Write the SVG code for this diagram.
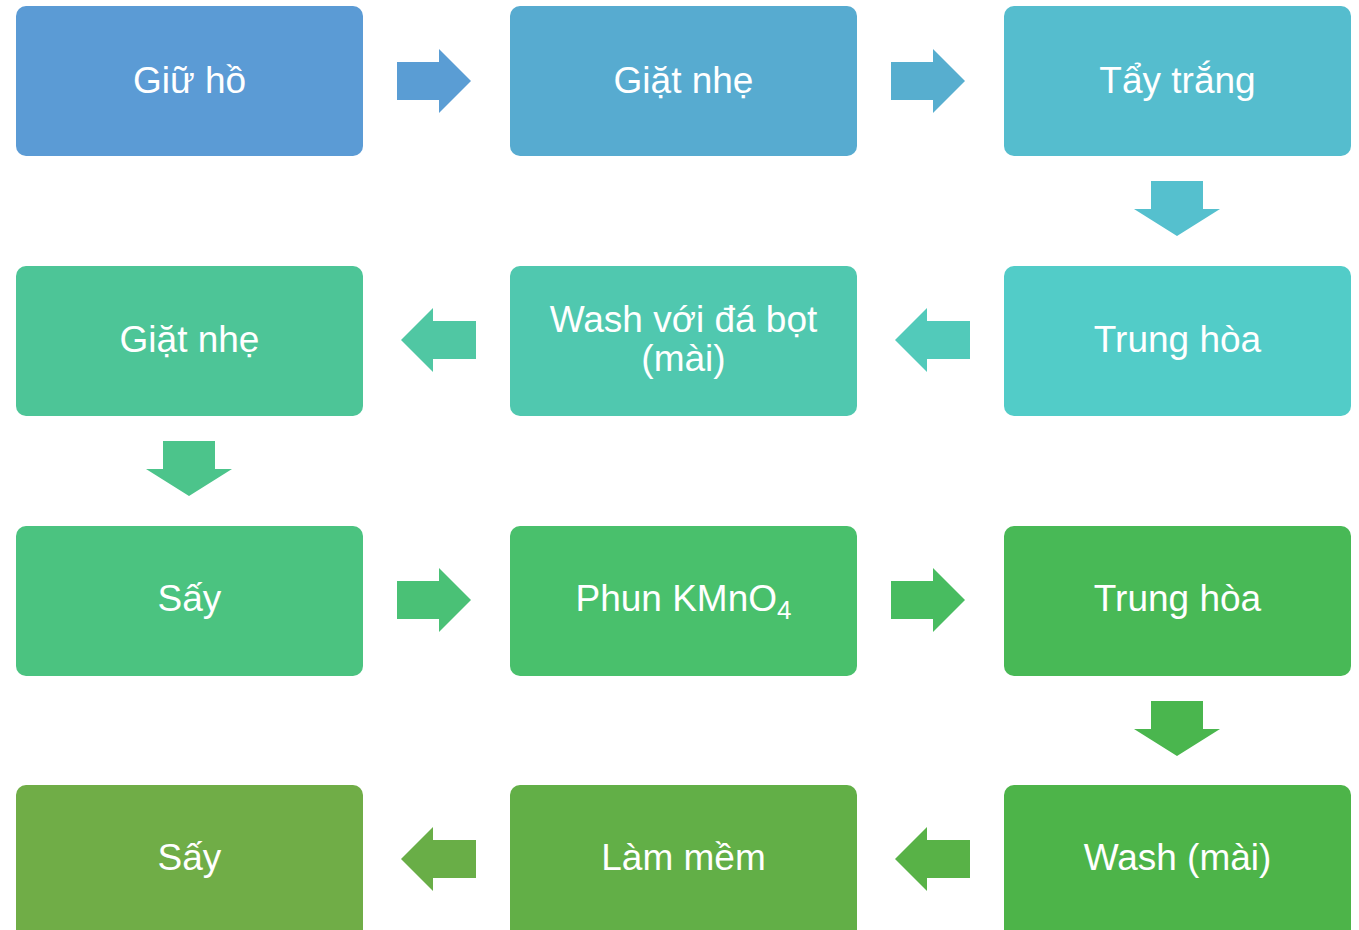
<svg xmlns="http://www.w3.org/2000/svg" xmlns:xlink="http://www.w3.org/1999/xlink" width="1359" height="930" viewBox="0 0 1359 930">
<style>
.box{stroke:none}
.t{font-family:"Liberation Sans",Arial,sans-serif;font-size:37px;fill:#fff;text-anchor:middle}
</style>
<defs>
<path id="ar" d="M0,-19 H42 V-32 L74,0 L42,32 V19 H0 Z"/>
<path id="al" d="M75,-19 H32 V-32 L0,0 L32,32 V19 H75 Z"/>
<path id="ad" d="M-26,0 H26 V28 H43 L0,55 L-43,28 H-26 Z"/>
</defs>
<rect width="1359" height="930" fill="#fff"/>
<g id="connectors">
<use xlink:href="#ar" x="397" y="81" fill="#5A9DD4"/>
<use xlink:href="#ar" x="891" y="81" fill="#57AECF"/>
<use xlink:href="#ad" x="1177" y="181" fill="#55C0CE"/>
<use xlink:href="#al" x="895" y="340" fill="#52CABA"/>
<use xlink:href="#al" x="401" y="340" fill="#50C7A3"/>
<use xlink:href="#ad" x="189" y="441" fill="#4CC48B"/>
<use xlink:href="#ar" x="397" y="600" fill="#4AC176"/>
<use xlink:href="#ar" x="891" y="600" fill="#48BC60"/>
<use xlink:href="#ad" x="1177" y="701" fill="#4AB64E"/>
<use xlink:href="#al" x="895" y="859" fill="#58B247"/>
<use xlink:href="#al" x="401" y="859" fill="#69AE47"/>
</g>
<g id="n1"><rect class="box" x="16" y="6" width="347" height="150" rx="10" fill="#5B9BD5"/><text class="t" x="189.5" y="93">Giữ hồ</text></g>
<g id="n2"><rect class="box" x="510" y="6" width="347" height="150" rx="10" fill="#57ABD0"/><text class="t" x="683.5" y="93">Giặt nhẹ</text></g>
<g id="n3"><rect class="box" x="1004" y="6" width="347" height="150" rx="10" fill="#55BDCE"/><text class="t" x="1177.5" y="93">Tẩy trắng</text></g>
<g id="n4"><rect class="box" x="1004" y="266" width="347" height="150" rx="10" fill="#52CCC8"/><text class="t" x="1177.5" y="352">Trung hòa</text></g>
<g id="n5"><rect class="box" x="510" y="266" width="347" height="150" rx="10" fill="#50C8AF"/><text class="t" x="683.5" y="332">Wash với đá bọt</text><text class="t" x="683.5" y="371">(mài)</text></g>
<g id="n6"><rect class="box" x="16" y="266" width="347" height="150" rx="10" fill="#4DC597"/><text class="t" x="189.5" y="352">Giặt nhẹ</text></g>
<g id="n7"><rect class="box" x="16" y="526" width="347" height="150" rx="10" fill="#4BC380"/><text class="t" x="189.5" y="611">Sấy</text></g>
<g id="n8"><rect class="box" x="510" y="526" width="347" height="150" rx="10" fill="#49C06C"/><text class="t" x="683.5" y="611">Phun KMnO<tspan dy="8" font-size="26">4</tspan></text></g>
<g id="n9"><rect class="box" x="1004" y="526" width="347" height="150" rx="10" fill="#48B956"/><text class="t" x="1177.5" y="611">Trung hòa</text></g>
<g id="n10"><rect class="box" x="1004" y="785" width="347" height="160" rx="10" fill="#4DB449"/><text class="t" x="1177.5" y="870">Wash (mài)</text></g>
<g id="n11"><rect class="box" x="510" y="785" width="347" height="160" rx="10" fill="#62AF47"/><text class="t" x="683.5" y="870">Làm mềm</text></g>
<g id="n12"><rect class="box" x="16" y="785" width="347" height="160" rx="10" fill="#70AD47"/><text class="t" x="189.5" y="870">Sấy</text></g>
</svg>
